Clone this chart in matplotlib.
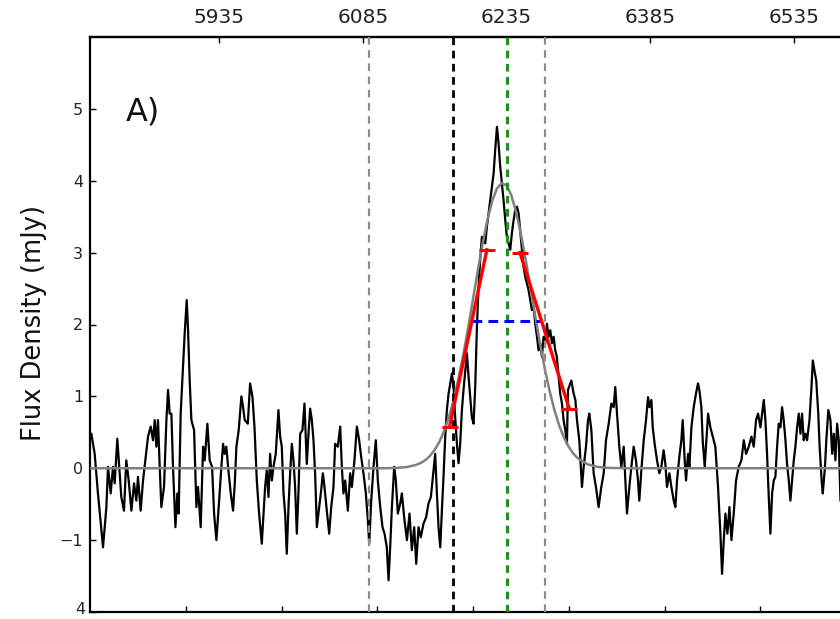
import matplotlib
matplotlib.use("Agg")
import matplotlib.pyplot as plt

plt.rcParams['font.family'] = ['DejaVu Sans']
plt.rcParams['lines.scale_dashes'] = False

# ---------------- data ----------------
spectrum_points = [
    (5800, 0.44), (5801.4, 0.48), (5804.9, 0.20), (5808.3, -0.35), (5813.6, -1.10), (5817.1, -0.54),
    (5818.8, 0.02), (5821.6, -0.35), (5824.0, 0.02), (5825.8, -0.21), (5828.5, 0.41), (5831.0, -0.07),
    (5832.7, -0.40), (5835.5, -0.59), (5837.9, 0.11), (5840.4, -0.17), (5843.2, -0.59), (5846.0, -0.21),
    (5848.4, -0.45), (5850.1, -0.12), (5852.9, -0.59), (5855.4, -0.17), (5857.8, 0.11), (5860.6, 0.44),
    (5863.4, 0.58), (5865.8, 0.39), (5867.6, 0.67), (5869.3, 0.30), (5871.0, 0.67), (5872.8, 0.02),
    (5874.5, -0.54), (5877.3, -0.26), (5879.8, 0.67), (5881.5, 1.09), (5883.2, 0.76), (5885.0, 0.76),
    (5886.7, 0.02), (5889.2, -0.82), (5891.2, -0.35), (5892.6, -0.63), (5894.7, 0.76), (5897.2, 1.41),
    (5898.9, 1.88), (5901.0, 2.34), (5902.4, 1.92), (5904.1, 1.22), (5905.9, 0.67), (5908.7, 0.53),
    (5911.1, -0.54), (5912.8, -0.26), (5915.6, -0.82), (5918.1, 0.30), (5919.8, 0.11), (5922.6, 0.62),
    (5925.0, 0.11), (5927.5, 0.02), (5929.6, -0.63), (5932.0, -1.00), (5934.4, -0.54), (5937.2, 0.02),
    (5939.0, 0.34), (5940.7, 0.20), (5942.4, 0.30), (5944.2, 0.02), (5947.0, -0.35), (5949.4, -0.59),
    (5951.2, -0.21), (5952.9, 0.30), (5955.3, 0.53), (5958.1, 1.00), (5959.9, 0.85), (5961.6, 0.67),
    (5964.8, 0.62), (5967.2, 1.18), (5969.7, 0.99), (5971.8, 0.57), (5974.2, -0.17), (5976.6, -0.63),
    (5979.4, -1.05), (5981.2, -0.63), (5982.9, -0.26), (5984.6, -0.03), (5986.4, -0.40), (5988.1, 0.20),
    (5989.9, -0.17), (5991.6, 0.02), (5994.0, 0.20), (5996.8, 0.81), (5998.6, 0.44), (6000.3, 0.30),
    (6002.1, -0.35), (6003.8, -0.63), (6005.5, -1.19), (6007.3, -0.54), (6009.0, -0.07), (6010.8, 0.34),
    (6012.5, 0.11), (6014.2, -0.26), (6016.0, -0.91), (6017.7, -0.35), (6019.5, 0.48), (6021.9, 0.53),
    (6024.0, 0.90), (6026.4, 0.06), (6028.2, 0.48), (6029.9, 0.83), (6031.7, 0.67), (6033.4, 0.39),
    (6035.1, -0.07), (6036.9, -0.82), (6038.6, -0.63), (6041.4, -0.31), (6043.2, -0.07), (6044.9, -0.26),
    (6047.3, -0.59), (6049.8, -0.91), (6051.9, -0.54), (6054.3, -0.26), (6056.0, 0.34), (6058.8, 0.30),
    (6061.3, 0.58), (6063.0, 0.02), (6064.7, -0.35), (6066.5, -0.17), (6069.3, -0.59), (6071.7, -0.07),
    (6073.5, -0.26), (6076.2, 0.11), (6078.7, 0.58), (6081.1, 0.39), (6083.2, 0.16), (6085.6, -0.07),
    (6088.1, -0.35), (6090.2, -0.72), (6091.6, -1.05), (6093.7, -0.45), (6096.1, 0.02), (6098.5, 0.39),
    (6100.6, -0.17), (6103.1, -0.54), (6105.5, -0.82), (6107.6, -0.91), (6110.0, -1.10), (6111.8, -1.56),
    (6113.5, -1.10), (6115.3, -0.54), (6117.7, 0.02), (6119.4, -0.17), (6121.5, -0.63),
    (6124.0, -0.49), (6125.7, -0.35), (6128.1, -0.68), (6131.0, -1.00), (6133.7, -0.63), (6136.1, -1.14),
    (6138.6, -0.82), (6140.7, -1.33), (6143.1, -0.82), (6145.5, -0.96), (6148.3, -0.77), (6151.1, -0.68),
    (6153.5, -0.49), (6156.0, -0.40), (6158.8, -0.03), (6160.5, 0.20), (6162.3, -0.35), (6164.0, -0.82),
    (6165.8, -1.10), (6167.5, -0.59), (6169.2, -0.12), (6171.0, 0.44), (6172.7, 0.81), (6174.5, 1.04),
    (6176.2, 1.18), (6178.0, 1.32), (6179.7, 1.13), (6181.4, 0.71), (6183.2, 0.34), (6184.9, 0.07),
    (6186.6, 0.34), (6188.4, 0.81), (6190.1, 1.09), (6191.9, 1.36), (6193.6, 1.60), (6195.4, 1.27),
    (6197.1, 0.99), (6198.8, 0.71), (6200.6, 0.62), (6202.3, 1.13), (6204.1, 1.97), (6205.8, 2.53),
    (6207.5, 2.90), (6209.3, 3.22), (6211.0, 3.18), (6212.8, 3.13), (6214.5, 3.36), (6216.3, 3.55),
    (6218.0, 3.73), (6219.7, 3.92), (6221.5, 4.10), (6223.2, 4.43), (6225.0, 4.75), (6226.7, 4.52),
    (6228.4, 4.20), (6230.2, 3.96), (6231.9, 3.73), (6233.7, 3.45), (6235.4, 3.22), (6237.2, 3.13),
    (6238.9, 3.04), (6240.6, 3.27), (6242.4, 3.45), (6244.1, 3.59), (6245.9, 3.64), (6247.6, 3.55),
    (6249.3, 3.31), (6251.1, 3.04), (6252.8, 2.80), (6254.6, 2.66), (6256.3, 2.57), (6258.0, 2.48),
    (6259.8, 2.34), (6261.5, 2.20), (6263.3, 2.25), (6265.0, 2.01), (6266.8, 1.83), (6268.5, 1.64),
    (6270.2, 1.74), (6272.0, 1.55), (6273.7, 1.83), (6275.5, 1.74), (6277.2, 2.01), (6278.9, 1.83),
    (6280.7, 1.92), (6282.4, 1.74), (6284.2, 1.83), (6285.9, 1.64), (6287.6, 1.55), (6289.4, 1.27),
    (6291.1, 1.04), (6292.9, 0.90), (6294.6, 0.67), (6296.4, 0.53), (6298.1, 0.34),
    (6299.2, 1.09), (6302.7, 1.22), (6305.1, 1.04), (6306.9, 0.95), (6308.6, 0.67), (6311.0, 0.39),
    (6313.8, -0.26), (6315.6, 0.02), (6318.0, 0.30), (6320.1, 0.67), (6321.5, 0.76), (6323.6, 0.53),
    (6326.0, -0.07), (6328.4, -0.26), (6331.2, -0.54), (6334.0, -0.26), (6336.5, -0.07), (6338.9, 0.39),
    (6341.7, 0.62), (6344.5, 0.90), (6346.9, 0.85), (6348.6, 1.13), (6350.4, 0.76), (6352.8, 0.30),
    (6354.9, 0.02), (6357.4, 0.30), (6359.1, -0.17), (6360.8, -0.63), (6363.3, -0.26), (6365.4, 0.02),
    (6367.8, 0.30), (6370.2, 0.11), (6372.3, -0.17), (6373.7, -0.45), (6375.8, -0.03), (6378.3, 0.39),
    (6380.7, 0.67), (6382.8, 0.99), (6384.2, 0.85), (6386.3, 0.95), (6387.7, 0.57), (6389.7, 0.34),
    (6392.2, 0.11), (6394.6, -0.07), (6396.7, 0.02), (6399.1, 0.25), (6400.9, 0.06), (6402.6, -0.26),
    (6405.1, -0.07), (6407.2, -0.26), (6409.6, -0.45), (6411.3, -0.54), (6413.1, -0.17), (6415.5, 0.16),
    (6417.6, 0.39), (6419.0, 0.67), (6421.1, 0.11), (6422.5, -0.17), (6424.6, 0.20), (6426.0, 0.02),
    (6428.1, 0.57), (6430.5, 0.85), (6432.9, 1.04), (6435.0, 1.18), (6436.4, 1.09), (6438.5, 0.85),
    (6439.9, 0.39), (6442.0, 0.02),
    (6445.5, 0.76), (6447.9, 0.57), (6450.4, 0.44), (6453.1, 0.30), (6455.9, -0.26), (6458.4, -0.91),
    (6460.1, -1.47), (6461.9, -1.00), (6463.6, -0.63), (6465.7, -0.91), (6467.8, -0.54), (6469.9, -1.00),
    (6472.3, -0.63), (6474.7, -0.17), (6477.5, 0.02), (6480.3, 0.11), (6482.8, 0.39), (6485.2, 0.20),
    (6488.0, 0.30), (6490.8, 0.44), (6493.2, 0.30), (6495.6, 0.67), (6497.7, 0.76), (6500.2, 0.57),
    (6501.9, 0.76), (6503.7, 0.95), (6505.4, 0.67), (6507.1, 0.20), (6508.9, -0.40), (6510.6, -0.91),
    (6512.4, -0.35), (6514.1, -0.17), (6515.8, -0.12), (6517.6, 0.30), (6519.3, 0.62), (6521.1, 0.57),
    (6522.8, 0.85), (6524.5, 0.67), (6526.3, 0.39), (6528.0, 0.06), (6529.8, -0.17), (6531.5, -0.45),
    (6533.3, -0.17), (6535.0, 0.11), (6536.7, 0.30), (6538.5, 0.57), (6540.2, 0.76), (6542.0, 0.48),
    (6543.7, 0.76), (6545.4, 0.39), (6547.2, 0.48), (6548.9, 0.39), (6551.4, 0.67), (6553.5, 1.13),
    (6554.9, 1.50), (6557.1, 1.32), (6558.5, 1.22), (6560.6, 0.76), (6562.0, 0.30), (6564.1, -0.17),
    (6565.3, -0.35), (6567.6, 0.02), (6569.0, 0.39), (6571.1, 0.81), (6573.3, 0.67), (6575.1, 0.20),
    (6576.8, 0.48), (6578.5, 0.11), (6580.3, 0.62), (6582.0, 0.39), (6583.8, -0.45),
]
spec_x = [p[0] for p in spectrum_points]
spec_y = [p[1] for p in spectrum_points]

gauss_x = [5800, 6100, 6110, 6120, 6130, 6140, 6145, 6150, 6155, 6160, 6165, 6170, 6175, 6180, 6185,
           6190, 6195, 6200, 6205, 6210, 6215, 6220, 6225, 6230, 6235, 6240, 6245, 6250, 6255, 6260,
           6265, 6270, 6275, 6280, 6285, 6290, 6295, 6300, 6305, 6310, 6320, 6330, 6340, 6360, 6600]
gauss_y = [0, 0, 0.001, 0.005, 0.015, 0.044, 0.071, 0.111, 0.171, 0.255, 0.370, 0.523, 0.719, 0.963,
           1.254, 1.589, 1.960, 2.352, 2.747, 3.122, 3.453, 3.717, 3.893, 3.968, 3.935, 3.799, 3.568,
           3.261, 2.901, 2.511, 2.115, 1.734, 1.383, 1.074, 0.811, 0.596, 0.427, 0.297, 0.201, 0.133,
           0.053, 0.019, 0.006, 0, 0]

vline_gray = [6091, 6275]
vline_black = 6179
vline_green = 6235

red_left_x = [6175.5, 6214.5]
red_left_y = [0.575, 3.04]
red_right_x = [6249.0, 6300.5]
red_right_y = [3.00, 0.83]

fwhm_x = [6199, 6272]
fwhm_y = 2.05

top_ticks = [5935, 6085, 6235, 6385, 6535]
bottom_ticks = [5900, 6000, 6100, 6200, 6300, 6400, 6500]
y_ticks = [-2, -1, 0, 1, 2, 3, 4, 5]
y_ticklabels = ['', '\u22121', '0', '1', '2', '3', '4', '5']
bottom_corner_label = '4'

# ---------------- figure ----------------
fig = plt.figure(figsize=(8.4, 6.19), dpi=100)
ax = fig.add_axes([90 / 840, 7 / 619, 766 / 840, 575 / 619])
ax.set_xlim(5800, 6600)
ax.set_ylim(-2, 6)

ax.plot(spec_x, spec_y, color='black', lw=1.6, zorder=2)
ax.plot(gauss_x, gauss_y, color='#808080', lw=1.8, zorder=3)

for xv in vline_gray:
    ax.axvline(xv, color='#8c8c8c', lw=1.6, dashes=(5.5, 4.0), zorder=4)
ax.axvline(vline_black, color='black', lw=2.0, dashes=(5.5, 4.0), zorder=4)
ax.axvline(vline_green, color='#1f8f1f', lw=2.2, dashes=(5.5, 4.0), zorder=4)

ax.plot(fwhm_x, [fwhm_y, fwhm_y], color='blue', lw=2.2, dashes=(7, 4.5), zorder=5)

ax.plot(red_left_x, red_left_y, color='red', lw=2.4, zorder=6)
ax.plot(red_right_x, red_right_y, color='red', lw=2.4, zorder=6)
ax.plot(red_left_x + red_right_x, red_left_y + red_right_y, linestyle='none', marker='_',
        ms=12, mew=2.2, color='red', zorder=6)

ax.text(5837, 4.96, 'A)', fontsize=23, ha='left', va='center', color='#111111')

# axes styling
for s in ax.spines.values():
    s.set_linewidth(1.6)
ax.set_xticks(bottom_ticks)
ax.set_xticklabels([])
ax.tick_params(axis='x', which='both', direction='in', length=4.5, width=1, top=False, bottom=True)
ax.set_yticks(y_ticks)
ax.set_yticklabels(y_ticklabels)
ax.tick_params(axis='y', direction='in', length=4.5, width=1, labelsize=11.5, pad=5,
               labelcolor='#222222', right=False)

sec = ax.secondary_xaxis('top')
sec.set_xticks(top_ticks)
sec.set_xticklabels([str(t) for t in top_ticks])
sec.tick_params(direction='in', length=4.5, width=1, labelsize=14.5, pad=7, labelcolor='#222222')
sec.spines['top'].set_linewidth(1.6)

# partly cut-off tick label at the bottom-left corner
fig.text(85 / 840, 1 - 609 / 619, bottom_corner_label, ha='right', va='center',
         fontsize=11.5, color='#222222')

fig.text(34 / 840, 1 - 323 / 619, 'Flux Density (mJy)', rotation=90, ha='center', va='center',
         fontsize=18.5, color='#111111')

fig.savefig('out.png', dpi=100)
